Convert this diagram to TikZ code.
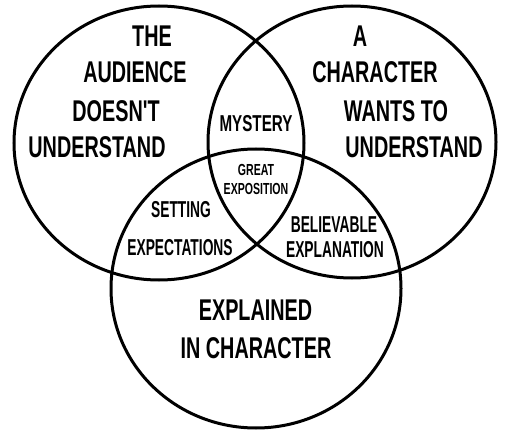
\documentclass[tikz,border=0pt]{standalone}
\usepackage{fontspec}
\usetikzlibrary{shapes.geometric}
\newfontfamily\cond{Liberation Sans}[FakeStretch=0.66]
\newfontfamily\condn{Liberation Sans}[FakeStretch=0.6]
\tikzset{
  ring/.style={ellipse, draw=black, line width=3pt, inner sep=0pt, outer sep=0pt},
  big/.style={font=\cond\bfseries\fontsize{30}{30}\selectfont, inner sep=0pt, anchor=base},
  mid/.style={font=\condn\bfseries\fontsize{23}{23}\selectfont, inner sep=0pt, anchor=base},
  midw/.style={font=\cond\bfseries\fontsize{23}{23}\selectfont, inner sep=0pt, anchor=base},
  small/.style={font=\cond\bfseries\fontsize{16}{16}\selectfont, inner sep=0pt, anchor=base}
}
\begin{document}
\begin{tikzpicture}[x=1pt, y=-1pt]
\useasboundingbox (0,0) rectangle (509,433);
\fill[white] (0,0) rectangle (509,433);
% circles
\node[ring, minimum width=290pt, minimum height=274pt] (left) at (159,143) {};
\node[ring, minimum width=288pt, minimum height=272pt] (right) at (352,142) {};
\node[ring, minimum width=290pt, minimum height=279pt] (bottom) at (256,288.5) {};
% left circle text
\node[big] (l1) at (152,47) {THE};
\node[big] (l2) at (135,83) {AUDIENCE};
\node[big] (l3) at (116,122) {DOESN'T};
\node[big] (l4) at (97,158) {UNDERSTAND};
% right circle text
\node[big] (r1) at (360,47) {A};
\node[big] (r2) at (375,83) {CHARACTER};
\node[big] (r3) at (396,122) {WANTS TO};
\node[big] (r4) at (414,158) {UNDERSTAND};
% intersections
\node[midw] (mys) at (256,132) {MYSTERY};
\node[small] (ge1) at (256,176) {GREAT};
\node[small] (ge2) at (256,195) {EXPOSITION};
\node[mid] (se1) at (181,218) {SETTING};
\node[mid] (se2) at (180,255) {EXPECTATIONS};
\node[mid] (be1) at (334,232) {BELIEVABLE};
\node[mid] (be2) at (335,257) {EXPLANATION};
% bottom circle text
\node[big] (b1) at (255.5,320) {EXPLAINED};
\node[big] (b2) at (256,358) {IN CHARACTER};
\end{tikzpicture}
\end{document}
